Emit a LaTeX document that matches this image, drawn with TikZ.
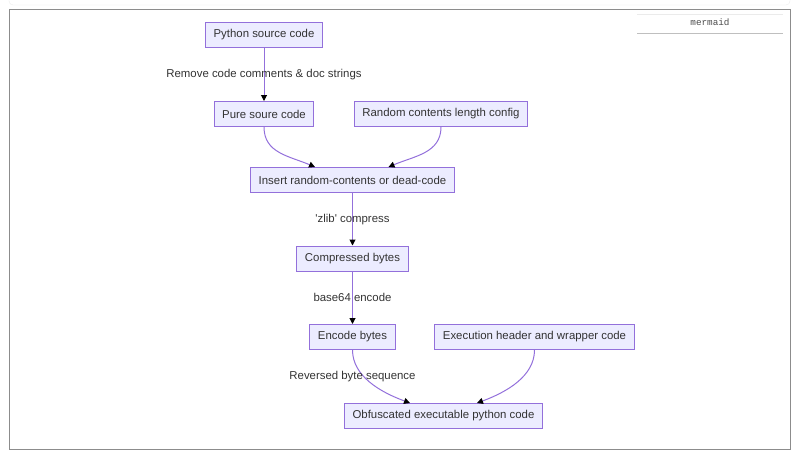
\documentclass[tikz,border=0pt]{standalone}
\usepackage{fontspec}
\setmainfont{Liberation Sans}
\setmonofont{Liberation Mono}
\usetikzlibrary{arrows.meta}
\definecolor{mmfill}{HTML}{ECECFF}
\definecolor{mmline}{HTML}{9370DB}
\definecolor{mmtext}{HTML}{333333}
\begin{document}
\begin{tikzpicture} [
                x=1pt, y=-1pt,
                stepbox/.style={draw=mmline,fill=mmfill,line width=1pt,text=mmtext,
                    font=\fontsize{11.4}{13}\selectfont,inner xsep=8pt,inner ysep=0pt,minimum height=25pt},
                flow/.style = {draw=mmline,line width=1pt,-{Triangle[length=6pt,width=6pt,color=black]}},
                flow label/.style = {text=mmtext,font=\fontsize{11.4}{13}\selectfont},
            ]
            \useasboundingbox (0,0) rectangle (800,461);
            % page frame and the mermaid tag
            \draw[black!8, rounded corners=4pt] (9,-10) rectangle (790,5);
            \draw[black!45, line width=1.2pt] (9.5,9.5) rectangle (790.5,449.5);
            \draw[black!8] (637,14) -- (783,14);
            \draw[black!25, line width=1pt] (637,33) -- (783,33);
            \node[font=\ttfamily\fontsize{9.3}{11}\selectfont, text=black!70] (tag) at (710,22.5) {mermaid};
            % First we draw the steps
            \foreach \pos/\name/\txt in {
                    {(264,35)/py/Python source code},
                    {(264,114)/pure/Pure soure code},
                    {(441,114)/rand/Random contents length config},
                    {(352.5,180)/ins/Insert random-contents or dead-code},
                    {(352.5,258.5)/comp/Compressed bytes},
                    {(352.5,337)/enc/Encode bytes},
                    {(534.5,337)/exec/Execution header and wrapper code},
                    {(443.5,416)/obf/Obfuscated executable python code}}
                \node[stepbox] (\name) at \pos {\txt};
            % Straight steps with their labels
            \foreach \source/\dest/\txt in {
                    py/pure/Remove code comments \& doc strings,
                    ins/comp/\textquotesingle zlib\textquotesingle{} compress,
                    comp/enc/base64 encode}
                \path[flow] (\source.south) -- node[flow label] (\source-lbl) {\txt} (\dest.north);
            % Curved steps that join
            \foreach \source/\dest/\shift/\bend in {
                    pure/ins/-37.5/-26, rand/ins/36/26, enc/obf/-33.5/-30, exec/obf/33.5/30}
                \path[flow] (\source.south) .. controls +(0,26) and +(\bend,-11) .. ([xshift=\shift pt]\dest.north);
            \node[flow label] (enc-lbl) at (352.5,377) {Reversed byte sequence};
        \end{tikzpicture}
\end{document}
